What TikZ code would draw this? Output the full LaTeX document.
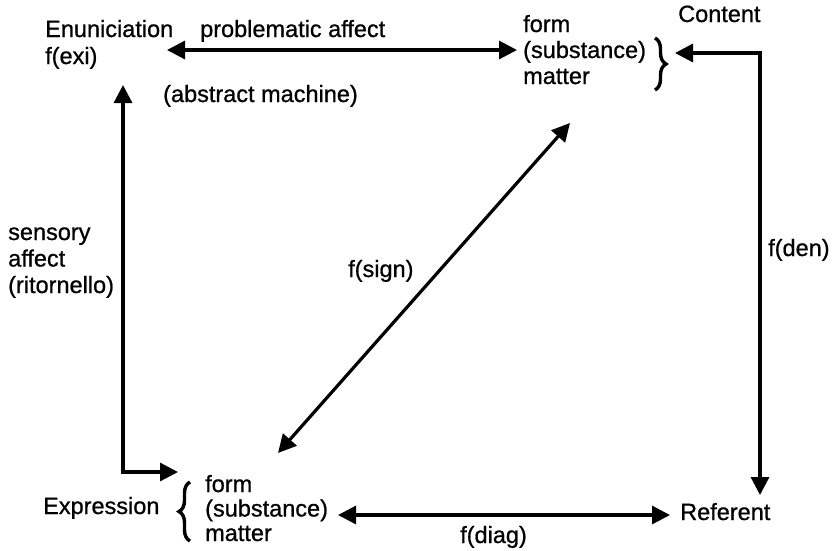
\documentclass[tikz,border=0pt]{standalone}
\usepackage{fontspec}
\setmainfont[FakeBold=0.8]{Liberation Sans}
\usetikzlibrary{arrows.meta,decorations.pathreplacing}
\begin{document}
\begin{tikzpicture}[x=1pt,y=-1pt,
  lbl/.style={anchor=base west,inner sep=0pt,align=left,font=\fontsize{23.5}{26}\selectfont},
  conn/.style={line width=3.2pt,{Triangle[length=18pt,width=18pt]}-{Triangle[length=18pt,width=18pt]}},
  brc/.style={line width=3.4pt,decorate,decoration={brace,amplitude=11pt}}]
\useasboundingbox[fill=white] (0,0) rectangle (834,550);
% texts (base anchor = baseline of last line)
\node[lbl,font=\fontsize{23.5}{27}\selectfont] (enun) at (45,64) {Enuniciation\\f(exi)};
\node[lbl] (probl) at (200,37) {problematic affect};
\node[lbl] (abstr) at (163,102) {(abstract machine)};
\node[lbl] (cform) at (523,84) {form\\(substance)\\matter};
\node[lbl] (content) at (678,22) {Content};
\node[lbl,font=\fontsize{23.5}{26.5}\selectfont] (sens) at (8,293) {sensory\\affect\\(ritornello)};
\node[lbl] (fsign) at (348,277) {f(sign)};
\node[lbl] (fden) at (768,256) {f(den)};
\node[lbl] (expr) at (43,514) {Expression};
\node[lbl,font=\fontsize{23.5}{24.5}\selectfont] (eform) at (205,541) {form\\(substance)\\matter};
\node[lbl] (refer) at (680,520) {Referent};
\node[lbl] (fdiag) at (460,543) {f(diag)};
% braces
\draw[brc] (655,38) -- (655,90);
\draw[brc] (190,541) -- (190,482);
% connector ends
\coordinate (enunE) at (167,50);
\coordinate (cformW) at (517,50);
\coordinate (cbrE) at (675,53);
\coordinate (cornerC) at (760,53);
\coordinate (referN) at (760,495);
\coordinate (eformE) at (338,515);
\coordinate (referW) at (670,515);
\coordinate (enunS) at (123,85);
\coordinate (cornerE) at (123,472);
\coordinate (ebrN) at (178,472);
\coordinate (eformNE) at (278,453);
\coordinate (cformSW) at (570,123);
% connectors
\draw[conn] (enunE) -- (cformW);
\draw[conn] (cbrE) -- (cornerC) -- (referN);
\draw[conn] (eformE) -- (referW);
\draw[conn] (enunS) -- (cornerE) -- (ebrN);
\draw[conn] (eformNE) -- (cformSW);
\end{tikzpicture}
\end{document}
